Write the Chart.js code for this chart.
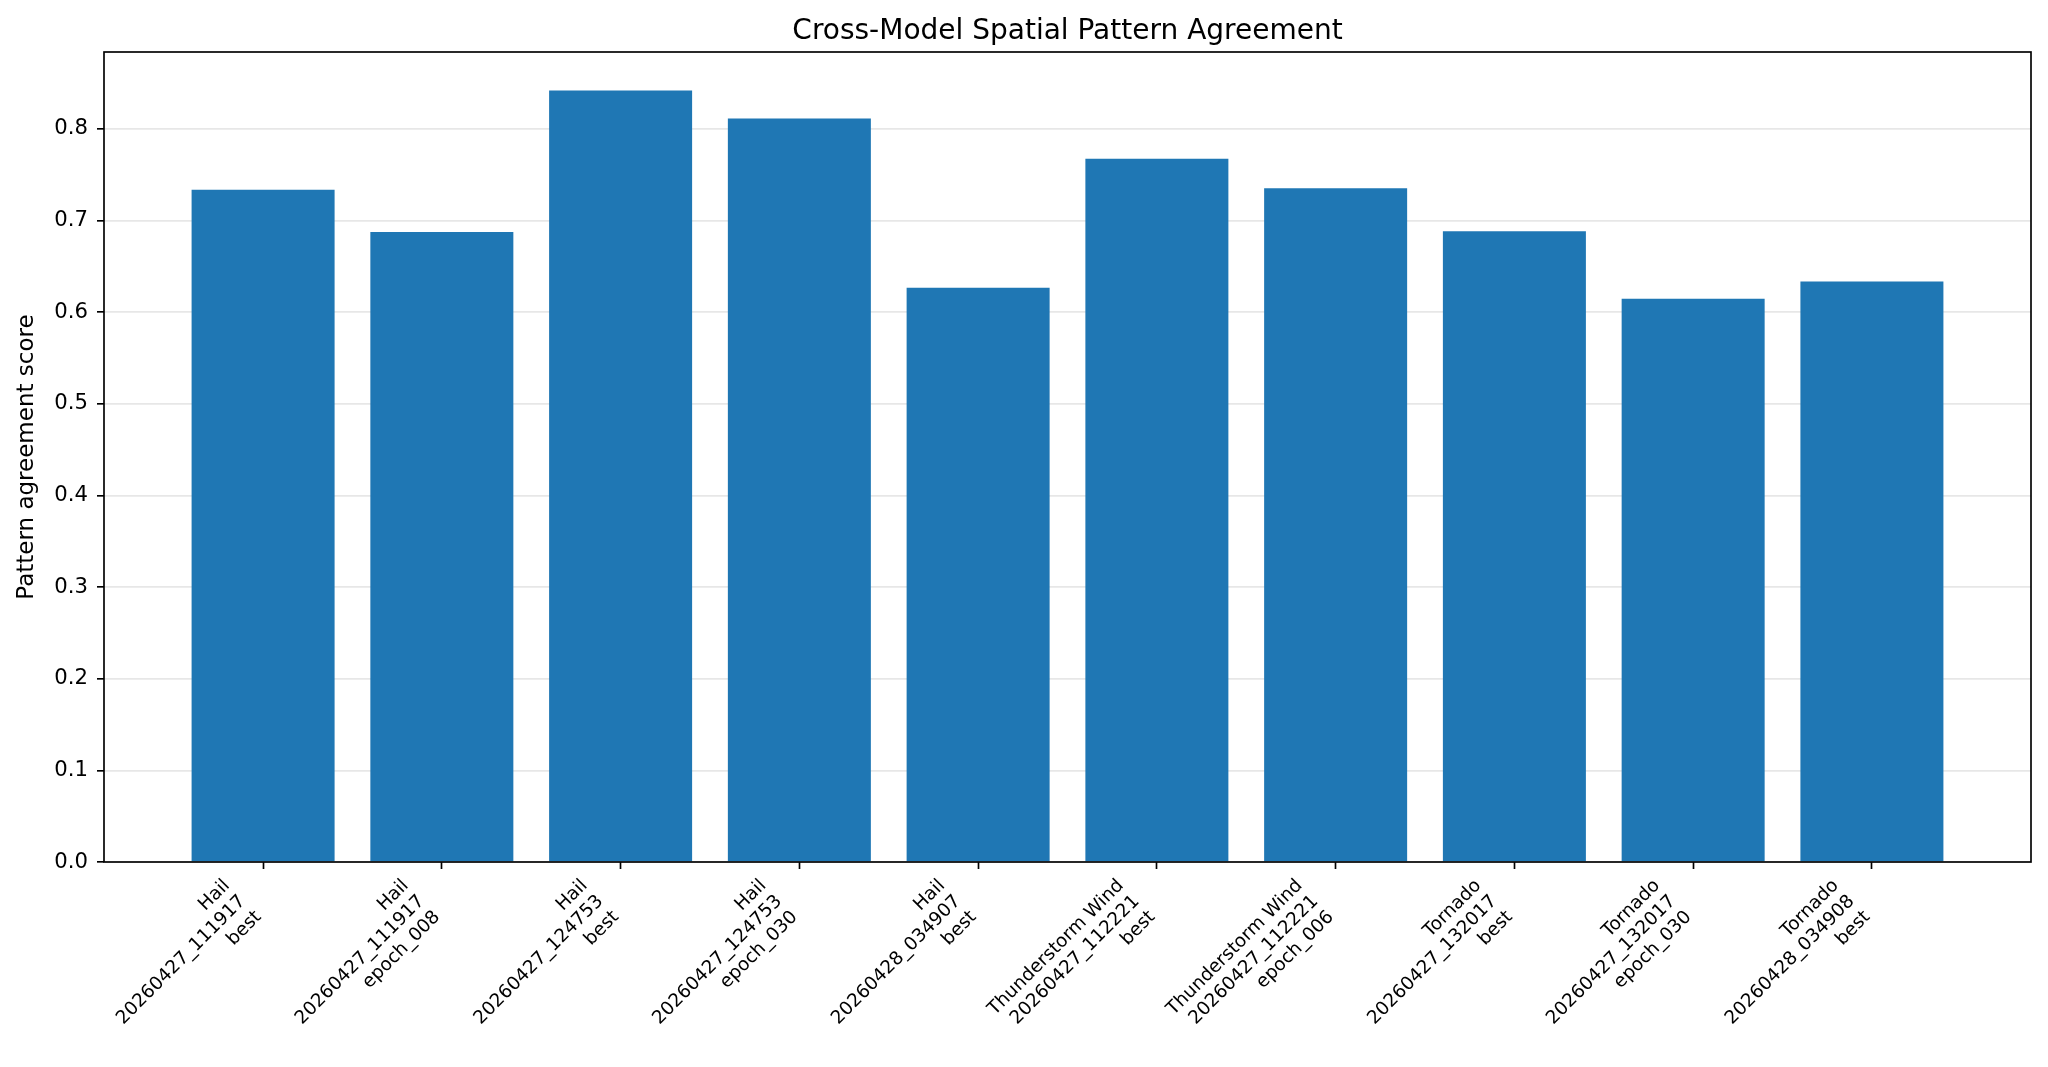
<!DOCTYPE html>
<html>
<head>
<meta charset="utf-8">
<title>Cross-Model Spatial Pattern Agreement</title>
<script src="https://cdn.jsdelivr.net/npm/chart.js@4"></script>
<style>
  html, body { margin: 0; padding: 0; background: #fff; }
  #wrap { width: 2048px; height: 1067px; position: relative; }
</style>
</head>
<body>
<div id="wrap"><canvas id="chart"></canvas></div>
<script>
// labels, one array per tick (three lines each)
const labels = [
  ['Hail', '20260427_111917', 'best'],
  ['Hail', '20260427_111917', 'epoch_008'],
  ['Hail', '20260427_124753', 'best'],
  ['Hail', '20260427_124753', 'epoch_030'],
  ['Hail', '20260428_034907', 'best'],
  ['Thunderstorm Wind', '20260427_112221', 'best'],
  ['Thunderstorm Wind', '20260427_112221', 'epoch_006'],
  ['Tornado', '20260427_132017', 'best'],
  ['Tornado', '20260427_132017', 'epoch_030'],
  ['Tornado', '20260428_034908', 'best']
];
const scores = [0.7335, 0.6873, 0.8416, 0.811, 0.6266, 0.7672, 0.735, 0.688, 0.6146, 0.6332];
const yTicks = [0.0, 0.1, 0.2, 0.3, 0.4, 0.5, 0.6, 0.7, 0.8];

const font = 'DejaVu Sans';
const n = labels.length;
const yMax = Math.max(...scores) * 1.05; // matplotlib-style top margin

// draws the four spines round the plot area
const frame = {
  id: 'frame',
  afterDraw(chart) {
    const a = chart.chartArea;
    const ctx = chart.ctx;
    ctx.save();
    ctx.strokeStyle = '#000';
    ctx.lineWidth = 1.67;
    ctx.strokeRect(a.left, a.top, a.right - a.left, a.bottom - a.top);
    ctx.restore();
  }
};

new Chart(document.getElementById('chart').getContext('2d'), {
  type: 'bar',
  data: {
    datasets: [{
      data: scores.map((v, i) => ({ x: i, y: v })),
      backgroundColor: '#1f77b4',
      borderWidth: 0,
      barPercentage: 0.8,
      categoryPercentage: 1.0
    }]
  },
  options: {
    responsive: true,
    maintainAspectRatio: false,
    devicePixelRatio: 1,
    animation: false,
    layout: { padding: { left: 0, right: 17, top: 0, bottom: 0 } },
    plugins: {
      legend: { display: false },
      tooltip: { enabled: false },
      title: {
        display: true,
        fullSize: false,
        text: 'Cross-Model Spatial Pattern Agreement',
        color: '#000',
        font: { family: font, size: 28, weight: 'normal', lineHeight: 1.2 },
        padding: { top: 14.5, bottom: 3.9 }
      }
    },
    scales: {
      x: {
        type: 'linear',
        offset: false,
        min: -0.89,
        max: n - 1 + 0.89,
        afterBuildTicks: (scale) => { scale.ticks = labels.map((_, i) => ({ value: i })); },
        afterFit: (scale) => { scale.height = 205; },
        grid: {
          offset: false,
          drawOnChartArea: false,
          drawTicks: true,
          tickLength: 7,
          tickWidth: 1.67,
          tickColor: '#000'
        },
        border: { display: false },
        ticks: {
          autoSkip: false,
          maxRotation: 45,
          minRotation: 45,
          padding: 6,
          labelOffset: -36,
          color: '#000',
          font: { family: font, size: 18.5, lineHeight: 1.2 },
          callback: (value) => labels[value]
        }
      },
      y: {
        min: 0,
        max: yMax,
        z: 1,
        afterBuildTicks: (scale) => { scale.ticks = yTicks.map(v => ({ value: v })); },
        afterFit: (scale) => { scale.width = 104; },
        grid: {
          color: 'rgba(176,176,176,0.3)',
          lineWidth: 1.67,
          tickLength: 7,
          tickWidth: 1.67,
          tickColor: '#000'
        },
        border: { display: false },
        ticks: {
          padding: 9,
          color: '#000',
          font: { family: font, size: 21.2 },
          callback: (value) => value.toFixed(1)
        },
        title: {
          display: true,
          text: 'Pattern agreement score',
          color: '#000',
          font: { family: font, size: 23, lineHeight: 1.2 },
          padding: { top: 13, bottom: 0 }
        }
      }
    }
  },
  plugins: [frame]
});
</script>
</body>
</html>
